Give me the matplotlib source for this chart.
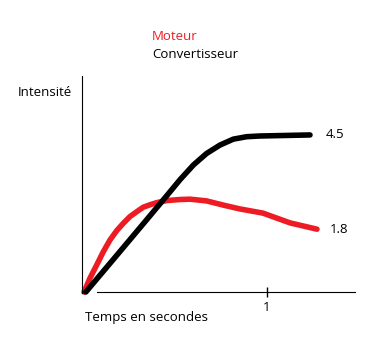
import matplotlib
matplotlib.use("Agg")
import matplotlib.pyplot as plt

W, H = 387, 361
DPI = 100

# courbes (temps en s, intensité)
t_conv = [0.01, 0.158, 0.344, 0.454, 0.525, 0.598, 0.670, 0.743, 0.816, 0.889, 0.962, 1.235]
i_conv = [0, 0.92, 2.08, 2.77, 3.22, 3.64, 3.97, 4.21, 4.38, 4.45, 4.47, 4.50]

t_mot = [0, 0.033, 0.069, 0.105, 0.142, 0.179, 0.215, 0.251, 0.288, 0.324, 0.361,
         0.397, 0.452, 0.525, 0.579, 0.670, 0.761, 0.852, 0.978, 1.126, 1.273]
i_mot = [0, 0.40, 0.77, 1.15, 1.49, 1.76, 1.97, 2.16, 2.30, 2.43, 2.50,
         2.56, 2.62, 2.65, 2.66, 2.61, 2.49, 2.38, 2.26, 1.98, 1.80]

RED = "#ED1C24"
plt.rcParams["font.family"] = ["Open Sans", "DejaVu Sans"]
FS = 9.5

fig = plt.figure(figsize=(W / DPI, H / DPI), dpi=DPI)
ax = fig.add_axes([0, 0, 1, 1])

# pixel -> data : x = (px-84)/183, y = (292-py)/34.9
px_x = 183.0
px_y = 34.9
ax.set_xlim(-84 / px_x, (W - 84) / px_x)
ax.set_ylim(-(H - 292) / px_y, 292 / px_y)

ax.plot(t_mot, i_mot, color=RED, lw=4, solid_capstyle="round", solid_joinstyle="round")
ax.plot(t_conv, i_conv, color="black", lw=4, solid_capstyle="round", solid_joinstyle="round")

# axes dessinés à la main
for s in ["top", "right"]:
    ax.spines[s].set_visible(False)
ax.spines["left"].set_position(("data", -2 / px_x))
ax.spines["left"].set_bounds(-1 / px_y, (292 - 76) / px_y)
ax.spines["bottom"].set_position(("data", 0))
ax.spines["bottom"].set_bounds(13 / px_x, (355 - 84) / px_x)
ax.set_yticks([])
ax.set_xticks([1])
ax.set_xticklabels(["1"], fontsize=FS)
ax.tick_params(axis="x", direction="inout", length=7, width=1, pad=3)

ax.annotate(str(i_conv[-1]), (t_conv[-1], i_conv[-1]), xytext=(11, 0),
            textcoords="offset points", va="center", fontsize=FS)
ax.annotate(str(i_mot[-1]), (t_mot[-1], i_mot[-1]), xytext=(9.5, 0),
            textcoords="offset points", va="center", fontsize=FS)


def ftext(px, py, s, **kw):
    fig.text(px / W, 1 - py / H, s, va="center", ha="left", fontsize=FS, **kw)


ftext(152, 37, "Moteur", color=RED)
ftext(152, 55, "Convertisseur")
ftext(18, 92, "Intensité")
ftext(85, 318, "Temps en secondes")

fig.savefig("out.png", dpi=DPI)
